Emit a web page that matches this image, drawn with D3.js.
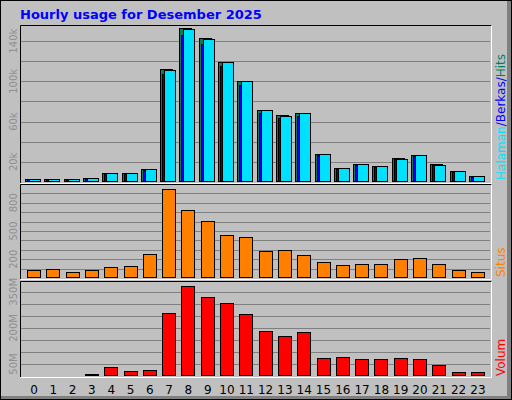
<!DOCTYPE html>
<html><head><meta charset="utf-8">
<script src="https://cdn.jsdelivr.net/npm/d3@7"></script>
<style>body{margin:0;background:#fff}text{font-family:"DejaVu Sans",sans-serif}</style>
</head><body>
<svg id="chart" width="512" height="400"></svg>
<script>
var hours = d3.range(24);
var hits   = [3000,3000,3000,4000,8700,8700,13000,112700,152700,142700,119700,100700,72000,66700,68700,27700,13700,17700,15700,23700,26700,17700,10700,5700];
var files  = [2700,2600,2200,3500,8200,8200,12300,107000,146000,136700,115000,96000,68700,63500,65500,26500,13000,16900,15000,22500,25500,16500,10200,5300];
var pages  = [2900,2900,2500,3900,8600,8600,12800,111700,152500,142500,119500,100500,71500,66000,68500,27500,13500,17600,15600,22600,26500,16700,10600,5600];
var visits = [82,93,61,82,115,125,254,950,725,607,457,436,283,294,240,165,133,154,154,197,208,144,90,68];
var volume = [3,3,3,7,36,20,23,261,374,328,303,257,186,165,182,74,78,70,70,74,70,45,15,15]; // MB
var hitTicks = [20000,60000,100000,140000], hitLabels = ["20k","60k","100k","140k"];
var visTicks = [200,500,800];
var volTicks = [50,200,350], volLabels = ["50M","200M","350M"];

var svg = d3.select("#chart");
var L = 20, R = 491;
var x = d3.scaleLinear().domain([0,23]).range([34, 34 + 19.3*23]);

// frame
svg.append("rect").attr("width",512).attr("height",400).attr("fill","#808080");
svg.append("rect").attr("width",507).attr("height",396).attr("fill","#C0C0C0");
svg.append("path").attr("d","M0.5,396 V0.5 H507").attr("stroke","#fff").attr("fill","none");
svg.append("rect").attr("x",0.5).attr("y",0.5).attr("width",511).attr("height",399).attr("fill","none").attr("stroke","#000");

svg.append("text").attr("x",20).attr("y",19).attr("fill","#0000FF")
  .attr("font-size",13).attr("font-weight","bold").text("Hourly usage for Desember 2025");

function panel(y0, y1, ymax, gridStep) {
  var y = d3.scaleLinear().domain([0,ymax]).range([y1, y0]);
  var g = svg.append("g");
  g.append("rect").attr("x",L).attr("y",y0).attr("width",R-L).attr("height",y1-y0).attr("fill","#C0C0C0");
  g.selectAll("line.grid").data(d3.range(gridStep, ymax, gridStep)).join("line")
    .attr("x1",L+1).attr("x2",R-1).attr("y1",d=>Math.round(y(d))+0.5).attr("y2",d=>Math.round(y(d))+0.5)
    .attr("stroke","#808080").attr("stroke-width",1);
  g.append("path").attr("d","M"+(L+0.5)+","+(y1+1)+" V"+(y0+0.5)+" H"+(R+0.5)).attr("stroke","#000").attr("fill","none");
  g.append("path").attr("d","M"+(L+0.5)+","+(y1+1.5)+" H"+(R+0.5)+" V"+(y0+0.5)).attr("stroke","#fff").attr("fill","none");
  return {y:y, g:g};
}

function yLabels(p, ticks, labels) {
  p.g.selectAll("text.yl").data(ticks).join("text")
    .attr("transform",(d)=>"translate(17,"+p.y(d)+") rotate(-90)")
    .attr("text-anchor","middle").attr("fill","#909090").attr("font-size",10)
    .text((d,i)=>labels[i]);
}

function bars(p, data, color, dx, w) {
  p.g.selectAll(null).data(data).join("rect")
    .attr("x",(d,i)=>Math.round(x(i)+dx)+0.5).attr("y",d=>Math.round(p.y(d))+0.5)
    .attr("width",w).attr("height",d=>Math.max(0,Math.round(p.y(0))-Math.round(p.y(d))-1))
    .attr("fill",color).attr("stroke","#000");
}

var pTop = panel(25, 182, 156000, 20000);
bars(pTop, hits, "#00805C", -9, 12);
bars(pTop, files, "#0000FF", -7, 12);
bars(pTop, pages, "#00E0FF", -5, 11);
yLabels(pTop, hitTicks, hitLabels);

var pMid = panel(184, 278, 1000, 100);
bars(pMid, visits, "#FF8000", -7, 13);
yLabels(pMid, visTicks, visTicks.map(String));

var pBot = panel(281, 376, 395, 50);
bars(pBot, volume, "#FF0000", -7, 13);
yLabels(pBot, volTicks, volLabels);

svg.selectAll("text.xl").data(hours).join("text")
  .attr("x",d=>x(d)).attr("y",394).attr("text-anchor","middle").attr("font-size",12).attr("fill","#000")
  .text(d=>d);

// right side legends
var leg = svg.append("text").attr("transform","translate(505,180) rotate(-90)").attr("font-size",12);
leg.append("tspan").attr("fill","#00E0FF").text("Halaman");
leg.append("tspan").attr("fill","#0000FF").text("/Berkas/");
leg.append("tspan").attr("fill","#00805C").text("Hits");
svg.append("text").attr("transform","translate(505,277) rotate(-90)").attr("font-size",12).attr("fill","#FF8000").text("Situs");
svg.append("text").attr("transform","translate(505,376) rotate(-90)").attr("font-size",12).attr("fill","#FF0000").text("Volum");
</script>
</body></html>
